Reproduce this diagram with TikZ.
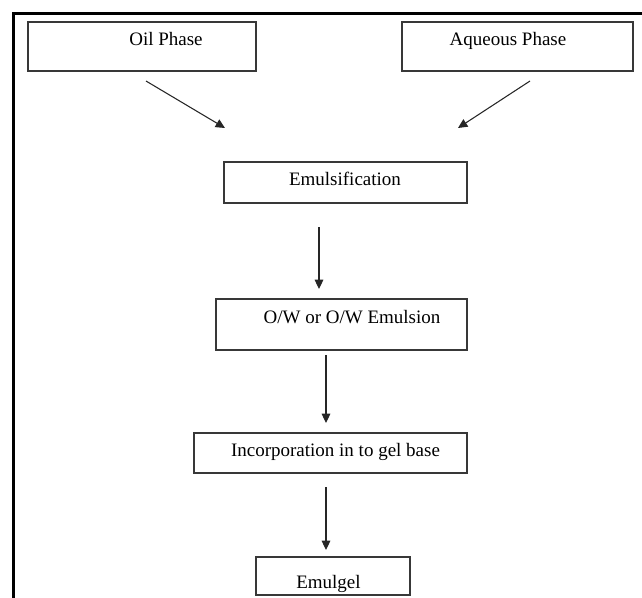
\documentclass[tikz,border=0pt]{standalone}
\usepackage{fontspec}
\setmainfont{Liberation Serif}
\usepackage{tikz}
\usetikzlibrary{arrows.meta,fit}

\begin{document}
\begin{tikzpicture}[
  x=0.75pt, y=-0.75pt,
  arr/.style={-{Triangle[length=7pt,width=6.5pt]}, line width=0.8pt, draw=black!85},
  box/.style={draw=black!78, line width=1pt, inner sep=0pt},
  txt/.style={anchor=base, inner sep=0pt, font=\fontsize{14.25}{17}\selectfont},
  frame/.style={line width=2.7pt, line cap=rect},
]
\useasboundingbox (0,0) rectangle (642,597);

% frame
\draw[frame] (13.5,597) -- (13.5,13.5) -- (642,13.5);

% boxes
\node[box, fit={(28,22) (256,71)}]   (oil) {};
\node[box, fit={(402,22) (633,71)}]  (aq) {};
\node[box, fit={(224,162) (467,203)}] (emul) {};
\node[box, fit={(216,299) (467,350)}] (ow) {};
\node[box, fit={(194,433) (467,473)}] (inc) {};
\node[box, fit={(256,557) (410,595)}] (gel) {};

% texts
\node[txt] (oiltxt)  at (166,45)  {Oil Phase};
\node[txt] (aqtxt)   at (508,45)  {Aqueous Phase};
\node[txt] (emultxt) at (345,185) {Emulsification};
\node[txt] (owtxt)   at (352,323) {O/W or O/W Emulsion};
\node[txt] (inctxt)  at (335.5,456) {Incorporation in to gel base};
\node[txt] (geltxt)  at (328.5,588) {Emulgel};

% arrow ends
\coordinate (oilout) at (146,81);
\coordinate (aqout)  at (530,81);
\coordinate (mixin1) at (225,128);
\coordinate (mixin2) at (458,128);
\coordinate (e1) at (319,227);
\coordinate (e2) at (319,289);
\coordinate (o1) at (326,355);
\coordinate (o2) at (326,423);
\coordinate (i1) at (326,487);
\coordinate (i2) at (326,550);

\draw[arr] (oilout) -- (mixin1);
\draw[arr] (aqout)  -- (mixin2);
\draw[arr] (e1) -- (e2);
\draw[arr] (o1) -- (o2);
\draw[arr] (i1) -- (i2);
\end{tikzpicture}
\end{document}
